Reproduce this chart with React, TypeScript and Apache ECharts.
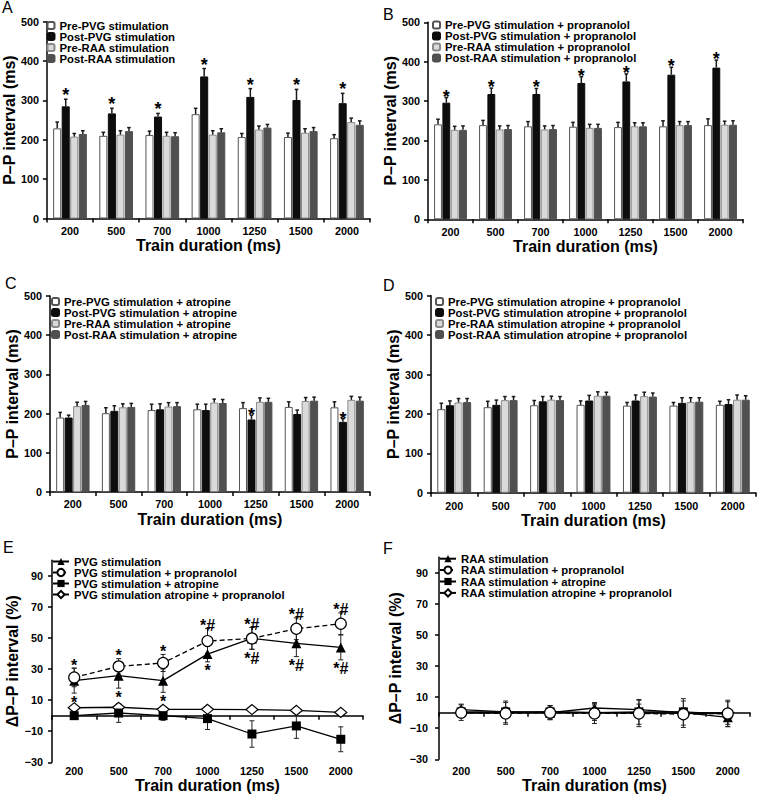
import React, { useEffect, useRef } from 'react';
import * as echarts from 'echarts';

const FONT = "'Liberation Sans', Arial, Helvetica, sans-serif";

const categories = ['200', '500', '700', '1000', '1250', '1500', '2000'];
const barYTicks = [0, 100, 200, 300, 400, 500];
const lineYTicks = [-30, -10, 10, 30, 50, 70, 90];

// ---------- Panel A ----------
const A_names = ['Pre-PVG stimulation', 'Post-PVG stimulation', 'Pre-RAA stimulation', 'Post-RAA stimulation'];
const A_prePVG = [229, 210, 212, 265, 207, 207, 204];
const A_prePVG_err = [16, 9, 10, 15, 9, 10, 9];
const A_postPVG = [285, 267, 259, 361, 309, 301, 293];
const A_postPVG_err = [18, 13, 8, 20, 21, 27, 25];
const A_preRAA = [208, 213, 210, 213, 226, 218, 245];
const A_preRAA_err = [8, 10, 9, 10, 9, 10, 10];
const A_postRAA = [215, 222, 209, 219, 231, 222, 238];
const A_postRAA_err = [8, 9, 9, 9, 8, 9, 10];
const A_sig = ['*', '*', '*', '*', '*', '*', '*'];

// ---------- Panel B ----------
const B_names = ['Pre-PVG stimulation + propranolol', 'Post-PVG stimulation + propranolol', 'Pre-RAA stimulation + propranolol', 'Post-RAA stimulation + propranolol'];
const B_prePVG = [241, 239, 236, 235, 234, 236, 239];
const B_prePVG_err = [13, 12, 12, 11, 12, 14, 16];
const B_postPVG = [296, 318, 318, 346, 350, 367, 385];
const B_postPVG_err = [13, 15, 14, 16, 19, 19, 19];
const B_preRAA = [227, 228, 228, 232, 236, 239, 240];
const B_preRAA_err = [9, 9, 9, 9, 9, 9, 9];
const B_postRAA = [227, 229, 229, 232, 236, 239, 240];
const B_postRAA_err = [10, 9, 9, 9, 9, 9, 10];
const B_sig = ['*', '*', '*', '*', '*', '*', '*'];

// ---------- Panel C ----------
const C_names = ['Pre-PVG stimulation + atropine', 'Post-PVG stimulation + atropine', 'Pre-RAA stimulation + atropine', 'Post-RAA stimulation + atropine'];
const C_prePVG = [190, 201, 209, 211, 214, 217, 216];
const C_prePVG_err = [13, 14, 15, 13, 14, 13, 14];
const C_postPVG = [190, 207, 211, 209, 185, 199, 179];
const C_postPVG_err = [6, 13, 14, 15, 11, 10, 8];
const C_preRAA = [219, 216, 218, 228, 230, 232, 235];
const C_preRAA_err = [10, 9, 10, 9, 10, 9, 9];
const C_postRAA = [222, 217, 219, 227, 230, 233, 233];
const C_postRAA_err = [9, 9, 9, 9, 9, 9, 9];
const C_sig = ['', '', '', '', '*', '', '*'];

// ---------- Panel D ----------
const D_names = ['Pre-PVG stimulation atropine + propranolol', 'Post-PVG stimulation atropine + propranolol', 'Pre-RAA stimulation atropine + propranolol', 'Post-RAA stimulation atropine + propranolol'];
const D_prePVG = [212, 217, 222, 223, 221, 221, 223];
const D_prePVG_err = [15, 15, 12, 10, 8, 8, 9];
const D_postPVG = [222, 223, 232, 234, 234, 228, 225];
const D_postPVG_err = [11, 12, 12, 13, 14, 13, 11];
const D_preRAA = [229, 235, 236, 246, 245, 230, 236];
const D_preRAA_err = [10, 9, 9, 10, 10, 11, 12];
const D_postRAA = [230, 235, 235, 246, 244, 231, 236];
const D_postRAA_err = [9, 9, 9, 9, 9, 10, 10];
const D_sig = ['', '', '', '', '', '', ''];

// ---------- Panel E ----------
const E_names = ['PVG stimulation', 'PVG stimulation + propranolol', 'PVG stimulation + atropine', 'PVG stimulation atropine + propranolol'];
const E_stim = [22.5, 25.7, 22.5, 39.6, 49.7, 46.5, 43.9];
const E_stim_err = [8, 8, 7.5, 5, 7, 8.5, 8];
const E_prop = [24.6, 31.7, 33.9, 48, 49.7, 55.9, 59.1];
const E_prop_err = [6, 5, 5.5, 8, 7, 7, 7];
const E_atro = [0, 1.7, 0, -1.9, -11.8, -6.6, -15.2];
const E_atro_err = [2, 6, 3, 7, 8.5, 8, 8];
const E_both = [5.1, 5.4, 4.1, 4.1, 3.9, 3.4, 2.1];
const E_both_err = [1, 1, 1, 1, 1, 1, 1];
const E_sigTop = ['*', '*', '*', '*#', '*#', '*#', '*#'];
const E_sigBottom = ['*', '*', '*', '*', '*#', '*#', '*#'];

// ---------- Panel F ----------
const F_names = ['RAA stimulation', 'RAA stimulation + propranolol', 'RAA stimulation + atropine', 'RAA stimulation atropine + propranolol'];
const F_stim = [2, 0.5, 0, 3, 2, 0, -3];
const F_stim_err = [3.5, 3, 4.5, 3.5, 3.5, 3, 4.5];
const F_prop = [0, -0.5, 0, -0.5, -0.5, -1, -0.5];
const F_prop_err = [5, 7, 4.5, 6.5, 8.5, 8.5, 8.5];
const F_atro = [0.5, 0.5, 0.5, 0, 0.5, 0.5, -1];
const F_atro_err = [3, 7, 4, 5, 8, 8.5, 8];
const F_both = [0, 0, 0.5, 0, 0, -0.5, 0];
const F_both_err = [1, 1, 1, 1, 1, 1, 1];

// ---------- styles ----------
const BAR_FILL = ['#ffffff', '#0d0d0d', '#dadada', '#505050'];
const BAR_BORDER = ['#555555', '#0d0d0d', '#8a8a8a', '#505050'];
const CAT_GAP = 0.27;
const BAR_GAP = 0.06;

const GRIDS = [
  { left: 45.5, top: 21.7, width: 324.5, height: 196.8 },
  { left: 428, top: 22.3, width: 315, height: 197 },
  { left: 50, top: 296, width: 320, height: 196 },
  { left: 431, top: 295.7, width: 325, height: 197 },
  { left: 52, top: 560.2, width: 311, height: 202.1 },
  { left: 439, top: 557.2, width: 311, height: 202.1 },
];

const axisLineStyle = { color: '#000', width: 1.5 };
const tickLabel = { fontSize: 10.8, fontWeight: 'bold', color: '#000', fontFamily: FONT };
const nameStyle = { fontSize: 16, fontWeight: 'bold', color: '#000', fontFamily: FONT };
const legendText = { fontSize: 11.3, fontWeight: 'bold', color: '#000', fontFamily: FONT };

function barXAxis(g: number, margin: number, nameGap: number) {
  return {
    type: 'category', gridIndex: g, data: categories, boundaryGap: true,
    axisLine: { show: true, lineStyle: axisLineStyle },
    axisTick: { show: true, length: 4, alignWithLabel: false, lineStyle: axisLineStyle },
    axisLabel: { ...tickLabel, margin, interval: 0 },
    splitLine: { show: false },
    name: 'Train duration (ms)', nameLocation: 'middle', nameGap, nameTextStyle: nameStyle,
  };
}

function barYAxis(g: number, nameGap: number) {
  return {
    type: 'value', gridIndex: g, min: 0, max: 500, interval: 100,
    axisLine: { show: true, lineStyle: axisLineStyle },
    axisTick: { show: true, length: 4, lineStyle: axisLineStyle, customValues: barYTicks },
    axisLabel: { ...tickLabel, margin: 8, customValues: barYTicks },
    splitLine: { show: false },
    name: 'P–P interval (ms)', nameLocation: 'middle', nameGap, nameTextStyle: nameStyle,
  };
}

function barSeries(ax: number, names: string[], values: number[][], errs: number[][], sig: string[], starOffset: number) {
  const out: any[] = names.map((n, s) => ({
    type: 'bar', name: n, xAxisIndex: ax, yAxisIndex: ax, data: values[s],
    barGap: (BAR_GAP * 100) + '%', barCategoryGap: (CAT_GAP * 100) + '%',
    itemStyle: { color: BAR_FILL[s], borderColor: BAR_BORDER[s], borderWidth: 1 },
    emphasis: { disabled: true }, z: 2,
  }));
  const data: number[][] = [];
  for (let s = 0; s < 4; s++) for (let c = 0; c < categories.length; c++) data.push([c, values[s][c], errs[s][c], s]);
  out.push({
    type: 'custom', name: '_err' + ax, xAxisIndex: ax, yAxisIndex: ax, z: 5, silent: true,
    data, encode: { x: 0, y: 1 },
    renderItem: (params: any, api: any) => {
      const c = api.value(0), v = api.value(1), e = api.value(2), s = api.value(3);
      const band = api.size([1, 0])[0];
      const usable = band * (1 - CAT_GAP);
      const w = usable / (4 + 3 * BAR_GAP);
      const cx = api.coord([c, 0])[0] - usable / 2 + s * w * (1 + BAR_GAP) + w / 2;
      const yb = api.coord([c, v])[1];
      const yt = api.coord([c, v + e])[1];
      const st = { stroke: '#1a1a1a', lineWidth: 1.5 };
      const children: any[] = [
        { type: 'line', shape: { x1: cx, y1: yb, x2: cx, y2: yt }, style: st },
        { type: 'line', shape: { x1: cx - 1.8, y1: yt, x2: cx + 1.8, y2: yt }, style: st },
      ];
      const mark = s === 1 ? sig[c] : '';
      if (mark) {
        children.push({
          type: 'text', x: cx, y: yt - starOffset,
          style: { text: mark, fontSize: 18, fontWeight: 'bold', fontFamily: FONT, fill: '#000', align: 'center', verticalAlign: 'middle' },
        });
      }
      return { type: 'group', children };
    },
  });
  return out;
}

function lineYAxis(g: number, nameGap: number, margin: number) {
  return {
    type: 'value', gridIndex: g, min: -30, max: 100,
    axisLine: { show: true, onZero: false, lineStyle: axisLineStyle },
    axisTick: { show: true, length: 4, lineStyle: axisLineStyle, customValues: lineYTicks },
    axisLabel: {
      ...tickLabel, margin, customValues: lineYTicks,
      formatter: (v: number) => String(v).replace('-', '\u2212'),
    },
    splitLine: { show: false },
    name: '\u0394P\u2013P interval (%)', nameLocation: 'middle', nameGap, nameTextStyle: nameStyle,
  };
}

function lineXAxes(g: number, margin: number, nameGap: number) {
  return [
    {
      type: 'category', gridIndex: g, data: categories, boundaryGap: true,
      axisLine: { show: true, onZero: true, lineStyle: axisLineStyle },
      axisTick: { show: true, length: 4, alignWithLabel: false, lineStyle: axisLineStyle },
      axisLabel: { show: false }, splitLine: { show: false },
    },
    {
      type: 'category', gridIndex: g, data: categories, boundaryGap: true, position: 'bottom',
      axisLine: { show: false, onZero: false }, axisTick: { show: false },
      axisLabel: { ...tickLabel, margin, interval: 0 }, splitLine: { show: false },
      name: 'Train duration (ms)', nameLocation: 'middle', nameGap, nameTextStyle: nameStyle,
    },
  ];
}

const LINE_STYLES = [
  { symbol: 'triangle', symbolSize: 10, itemStyle: { color: '#000' }, lineStyle: { color: '#000', width: 1.3 }, z: 4 },
  { symbol: 'circle', symbolSize: 11, itemStyle: { color: '#fff', borderColor: '#000', borderWidth: 1.2 }, lineStyle: { color: '#000', width: 1.3, type: [5, 3] }, z: 6 },
  { symbol: 'rect', symbolSize: 9, itemStyle: { color: '#000' }, lineStyle: { color: '#000', width: 1.3 }, z: 5 },
  { symbol: 'diamond', symbolSize: [12, 10], itemStyle: { color: '#fff', borderColor: '#000', borderWidth: 1.2 }, lineStyle: { color: '#000', width: 1.3 }, z: 3 },
];

function lineSeries(xi: number, yi: number, names: string[], values: number[][], errs: number[][]) {
  const out: any[] = [];
  names.forEach((n, s) => {
    out.push({
      type: 'line', name: n, xAxisIndex: xi, yAxisIndex: yi, data: values[s],
      ...LINE_STYLES[s], emphasis: { disabled: true },
    });
    out.push({
      type: 'custom', name: '_lerr' + xi + '_' + s, xAxisIndex: xi, yAxisIndex: yi, z: 1, silent: true,
      data: values[s].map((v, c) => [c, v, errs[s][c]]), encode: { x: 0, y: 1 },
      renderItem: (params: any, api: any) => {
        const c = api.value(0), v = api.value(1), e = api.value(2);
        const x = api.coord([c, v])[0];
        const yt = api.coord([c, v + e])[1];
        const yb = api.coord([c, v - e])[1];
        const st = { stroke: '#222', lineWidth: 1 };
        return {
          type: 'group', children: [
            { type: 'line', shape: { x1: x, y1: yt, x2: x, y2: yb }, style: st },
            { type: 'line', shape: { x1: x - 2.5, y1: yt, x2: x + 2.5, y2: yt }, style: st },
            { type: 'line', shape: { x1: x - 2.5, y1: yb, x2: x + 2.5, y2: yb }, style: st },
          ],
        };
      },
    });
  });
  return out;
}

function barLegend(names: string[], left: number, top: number) {
  return {
    orient: 'vertical', left, top, padding: 0, itemGap: 0, itemWidth: 7, itemHeight: 7,
    selectedMode: false, data: names, textStyle: { ...legendText, lineHeight: 10.3 },
  };
}

function lineLegend(names: string[], left: number, top: number, lh: number) {
  return {
    orient: 'vertical', left, top, padding: 0, itemGap: 0, itemWidth: 16, itemHeight: 9,
    selectedMode: false, data: names, textStyle: { ...legendText, lineHeight: lh },
  };
}

function letter(t: string, left: number, top: number) {
  return { type: 'text', left, top, style: { text: t, fontSize: 16, fontFamily: FONT, fill: '#000' } };
}

export default function App() {
  const ref = useRef<HTMLDivElement>(null);
  useEffect(() => {
    document.body.style.margin = '0';
    if (!ref.current) return;
    const chart = echarts.init(ref.current, undefined, { renderer: 'svg' });

    const eAnnot = {
      type: 'custom', name: '_annotE', xAxisIndex: 4, yAxisIndex: 4, z: 7, silent: true,
      data: categories.map((_, c) => [c, E_prop[c]]), encode: { x: 0, y: 1 },
      renderItem: (params: any, api: any) => {
        const c = params.dataIndex;
        const x = api.coord([c, 0])[0];
        const yTop = api.coord([c, E_prop[c] + E_prop_err[c]])[1];
        const yBot = api.coord([c, E_stim[c] - E_stim_err[c]])[1];
        const ts = { fontSize: 16, fontWeight: 'bold', fontFamily: FONT, fill: '#000', align: 'center', verticalAlign: 'middle' };
        return {
          type: 'group', children: [
            { type: 'text', x, y: yTop - 3, style: { ...ts, text: E_sigTop[c] } },
            { type: 'text', x, y: yBot + 9, style: { ...ts, text: E_sigBottom[c] } },
          ],
        };
      },
    };

    const option: any = {
      animation: false,
      textStyle: { fontFamily: FONT },
      grid: GRIDS,
      xAxis: [
        barXAxis(0, 7, 18),
        barXAxis(1, 7, 17),
        barXAxis(2, 6, 19),
        barXAxis(3, 8, 19),
        ...lineXAxes(4, 3, 14),
        ...lineXAxes(5, 6, 17),
      ],
      yAxis: [
        barYAxis(0, 22),
        barYAxis(1, 25),
        barYAxis(2, 26),
        barYAxis(3, 27),
        lineYAxis(4, 27, 9),
        lineYAxis(5, 36, 11),
      ],
      legend: [
        barLegend(A_names, 46.5, 20),
        barLegend(B_names, 432, 19.5),
        barLegend(C_names, 51, 296),
        barLegend(D_names, 435, 296),
        lineLegend(E_names, 52, 556, 11),
        lineLegend(F_names, 439, 553, 11.4),
      ],
      series: [
        ...barSeries(0, A_names, [A_prePVG, A_postPVG, A_preRAA, A_postRAA], [A_prePVG_err, A_postPVG_err, A_preRAA_err, A_postRAA_err], A_sig, 4),
        ...barSeries(1, B_names, [B_prePVG, B_postPVG, B_preRAA, B_postRAA], [B_prePVG_err, B_postPVG_err, B_preRAA_err, B_postRAA_err], B_sig, 1),
        ...barSeries(2, C_names, [C_prePVG, C_postPVG, C_preRAA, C_postRAA], [C_prePVG_err, C_postPVG_err, C_preRAA_err, C_postRAA_err], C_sig, 0),
        ...barSeries(3, D_names, [D_prePVG, D_postPVG, D_preRAA, D_postRAA], [D_prePVG_err, D_postPVG_err, D_preRAA_err, D_postRAA_err], D_sig, 0),
        ...lineSeries(4, 4, E_names, [E_stim, E_prop, E_atro, E_both], [E_stim_err, E_prop_err, E_atro_err, E_both_err]),
        ...lineSeries(6, 5, F_names, [F_stim, F_prop, F_atro, F_both], [F_stim_err, F_prop_err, F_atro_err, F_both_err]),
        eAnnot,
      ],
      graphic: [
        letter('A', 2, -1),
        letter('B', 383, 6),
        letter('C', 5, 275),
        letter('D', 383, 277),
        letter('E', 3, 539),
        letter('F', 383, 540),
      ],
    };
    chart.setOption(option);
    return () => chart.dispose();
  }, []);
  return <div ref={ref} style={{ width: 758, height: 795 }} />;
}
